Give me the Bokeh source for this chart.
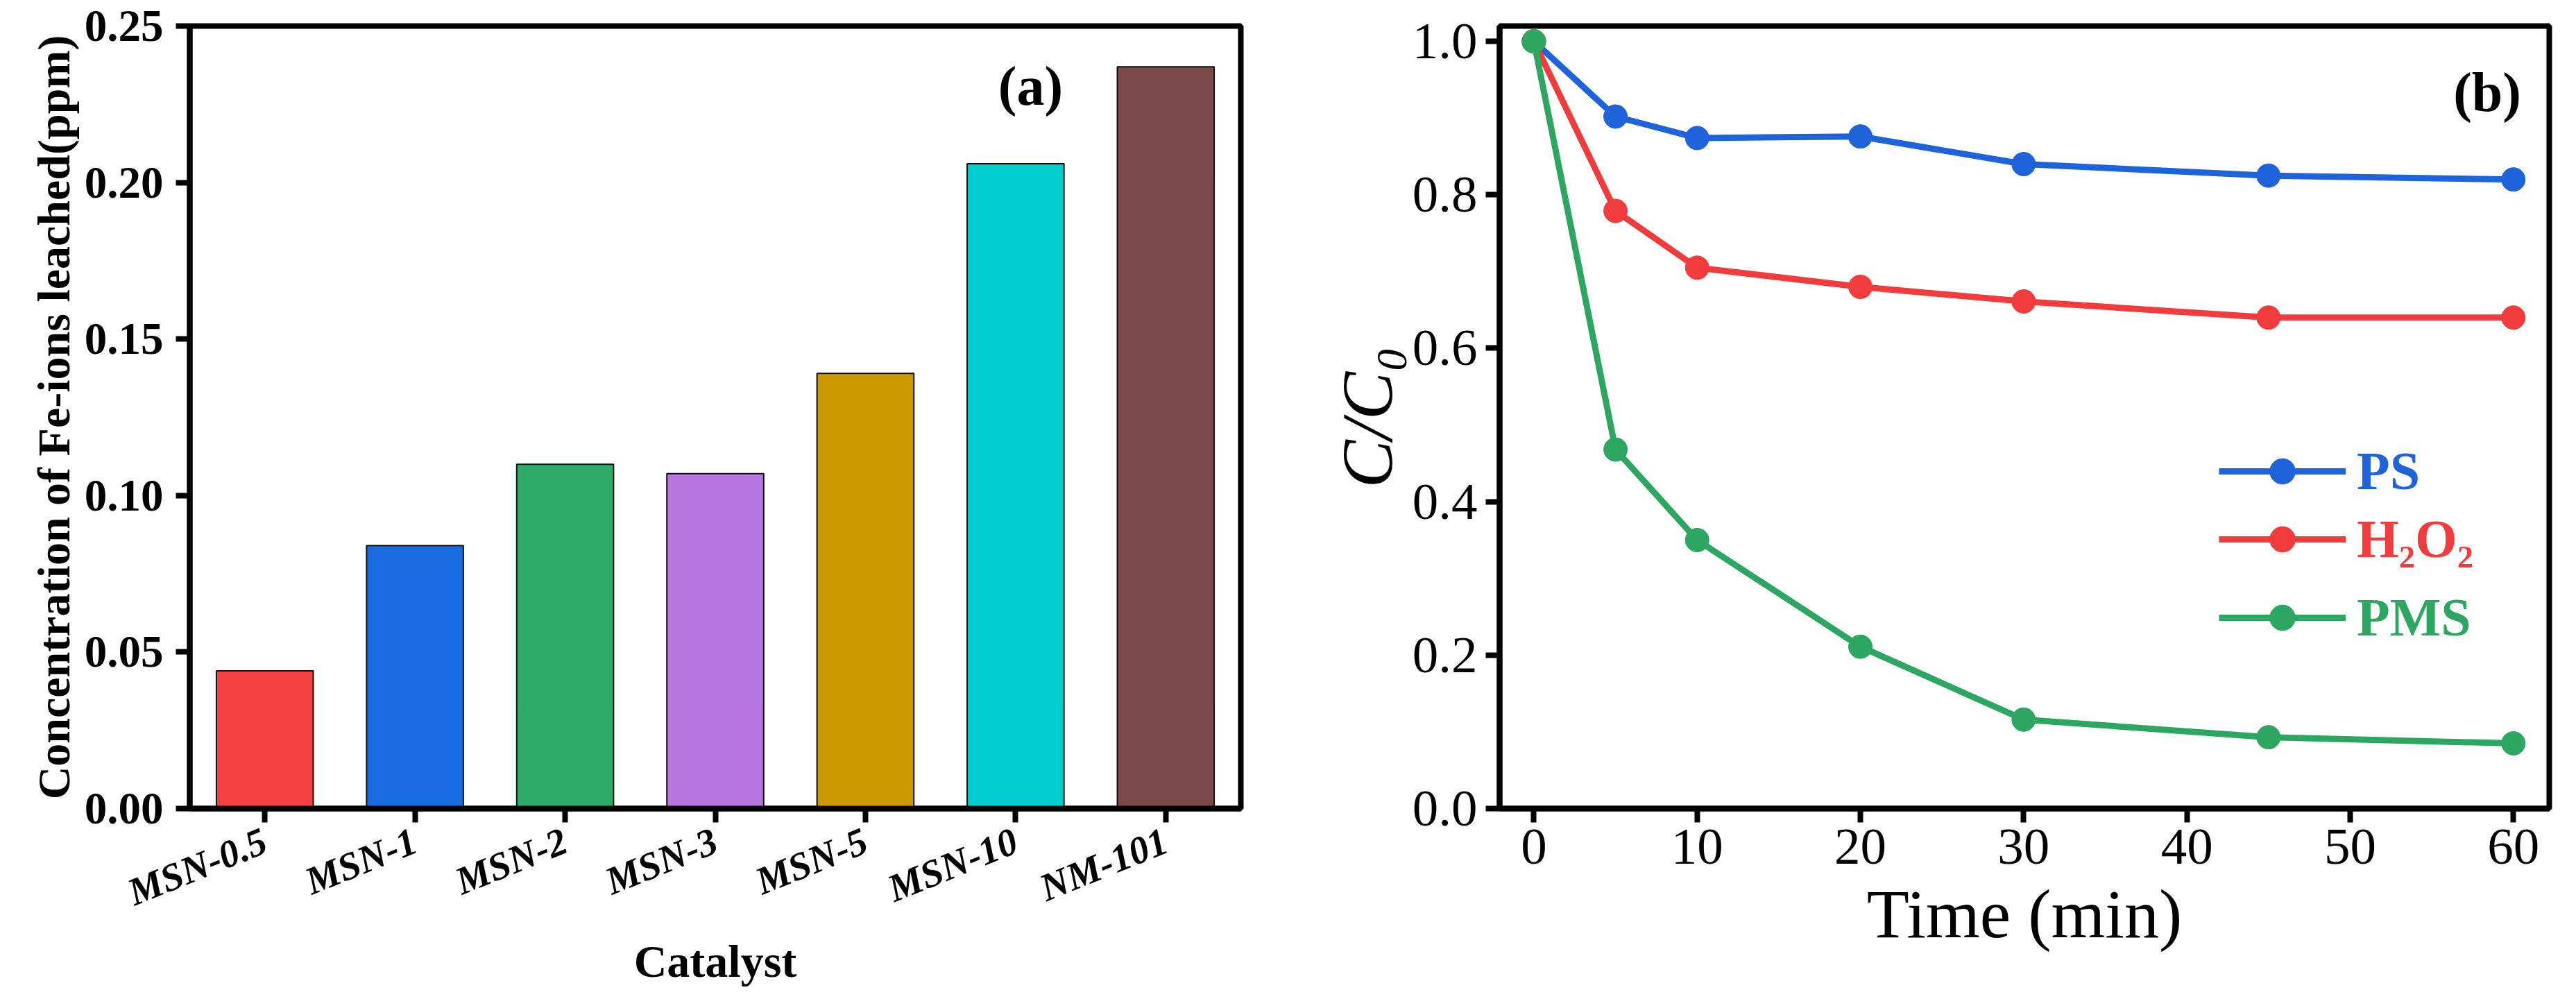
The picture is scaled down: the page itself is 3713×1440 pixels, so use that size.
import math

from bokeh.embed import file_html
from bokeh.layouts import row
from bokeh.models import (FactorRange, FixedTicker, Label, Legend, LegendItem,
                          NumeralTickFormatter, Range1d)
from bokeh.plotting import figure
from bokeh.resources import INLINE

FONT = "Liberation Serif"

# (a) Fe leaching per catalyst
catalysts = ["MSN-0.5", "MSN-1", "MSN-2", "MSN-3", "MSN-5", "MSN-10", "NM-101"]
fe_leached = [0.044, 0.084, 0.110, 0.107, 0.139, 0.206, 0.237]
bar_colors = ["#F44242", "#1A6ADF", "#2EAA6B", "#B576DE", "#CC9A00", "#00CDCD", "#7A4949"]

# (b) degradation curves
time_min = [0, 5, 10, 20, 30, 45, 60]
ps = [1.0, 0.902, 0.874, 0.876, 0.840, 0.825, 0.820]
h2o2 = [1.0, 0.779, 0.705, 0.680, 0.661, 0.640, 0.640]
pms = [1.0, 0.468, 0.350, 0.211, 0.116, 0.093, 0.085]
series_names = ["PS", "H\u2082O\u2082", "PMS"]
series_colors = ["#1F63DA", "#F03C3C", "#2CA661"]


def style_axes(p, tick_font_size, tick_style):
    p.outline_line_color = "black"
    p.outline_line_width = 8
    p.xgrid.visible = False
    p.ygrid.visible = False
    for ax in (p.xaxis[0], p.yaxis[0]):
        ax.axis_line_width = 8
        ax.major_tick_line_width = 8
        ax.major_tick_in = 0
        ax.major_tick_out = 20
        ax.minor_tick_line_color = None
        ax.major_label_text_font = FONT
        ax.major_label_text_font_size = tick_font_size
        ax.major_label_text_font_style = tick_style
        ax.major_label_text_color = "black"
        ax.axis_label_text_font = FONT
        ax.axis_label_text_color = "black"


def bar_figure():
    p = figure(
        x_range=FactorRange(*catalysts),
        y_range=Range1d(0, 0.25),
        width=1855, height=1424,
        min_border_left=273, min_border_right=67,
        min_border_top=37, min_border_bottom=255,
        tools="", toolbar_location=None,
        output_backend="svg")
    style_axes(p, "65px", "bold")
    p.vbar(x=catalysts, top=fe_leached, width=0.645, fill_color=bar_colors,
           line_color="#111111", line_width=2)

    p.yaxis.ticker = FixedTicker(ticks=[0, 0.05, 0.10, 0.15, 0.20, 0.25])
    p.yaxis.formatter = NumeralTickFormatter(format="0.00")
    p.yaxis.axis_label = "Concentration of Fe-ions leached(ppm)"
    p.yaxis.axis_label_text_font_size = "66px"
    p.yaxis.axis_label_text_font_style = "bold"
    p.yaxis.major_label_standoff = 18

    p.xaxis.major_label_orientation = math.radians(22)
    p.xaxis.major_label_text_font_size = "56px"
    p.xaxis.major_label_text_font_style = "bold italic"
    p.xaxis.axis_label = "Catalyst"
    p.xaxis.axis_label_text_font_size = "66px"
    p.xaxis.axis_label_text_font_style = "bold"
    p.xaxis.major_label_standoff = 24
    p.xaxis.axis_label_standoff = 0

    p.add_layout(Label(x=5.6, y=0.2308, text="(a)", text_font=FONT,
                       text_font_size="80px", text_font_style="bold",
                       text_color="black",
                       text_align="center", text_baseline="middle"))
    return p


def curve_figure():
    p = figure(
        x_range=Range1d(-2.1, 62.2),
        y_range=Range1d(0, 1.02),
        width=1842, height=1424,
        min_border_left=306, min_border_right=23,
        min_border_top=37, min_border_bottom=255,
        tools="", toolbar_location=None,
        output_backend="svg")
    style_axes(p, "75px", "normal")

    p.xaxis.ticker = FixedTicker(ticks=[0, 10, 20, 30, 40, 50, 60])
    p.yaxis.ticker = FixedTicker(ticks=[0, 0.2, 0.4, 0.6, 0.8, 1.0])
    p.yaxis.formatter = NumeralTickFormatter(format="0.0")
    p.xaxis.axis_label = "Time (min)"
    p.xaxis.axis_label_text_font_size = "100px"
    p.xaxis.axis_label_text_font_style = "normal"
    p.xaxis.major_label_standoff = 10
    p.xaxis.axis_label_standoff = 14
    p.yaxis.axis_label = "C/C\u2080"
    p.yaxis.axis_label_text_font_size = "104px"
    p.yaxis.axis_label_text_font_style = "italic"
    p.yaxis.major_label_standoff = 12

    bottoms = [440, 342, 229]
    for ys, name, color, bottom in zip([ps, h2o2, pms], series_names, series_colors, bottoms):
        ln = p.line(time_min, ys, line_width=9, color=color)
        sc = p.scatter(time_min, ys, size=34, fill_color=color, line_color=color)
        leg = Legend(
            items=[LegendItem(label=name, renderers=[ln, sc])],
            location=(1037, bottom),
            border_line_color=None, background_fill_alpha=0,
            padding=0, margin=0, spacing=0,
            glyph_width=183, glyph_height=92, label_standoff=16,
            label_text_font=FONT, label_text_font_style="bold",
            label_text_font_size="78px", label_text_color=color)
        p.add_layout(leg)

    p.add_layout(Label(x=58.4, y=0.934, text="(b)", text_font=FONT,
                       text_font_size="80px", text_font_style="bold",
                       text_color="black",
                       text_align="center", text_baseline="middle"))
    return p


layout = row(bar_figure(), curve_figure())
open("out.html", "w").write(file_html(layout, INLINE))
